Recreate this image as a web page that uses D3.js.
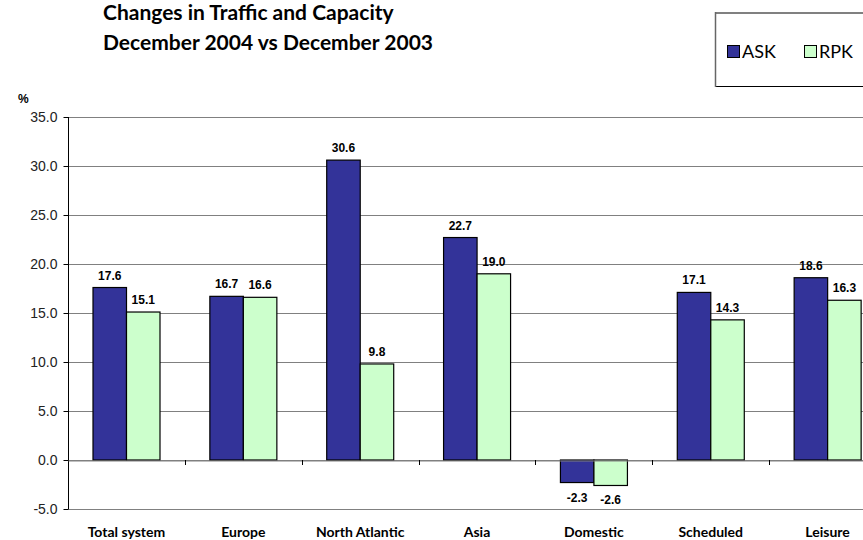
<!DOCTYPE html>
<html>
<head>
<meta charset="utf-8">
<script src="https://cdn.jsdelivr.net/npm/d3@7"></script>
<style>
  body { margin: 0; background: #fff; }
  svg { display: block; }
</style>
</head>
<body>
<div id="chart"></div>
<script>
var categories = ["Total system", "Europe", "North Atlantic", "Asia", "Domestic", "Scheduled", "Leisure"];
var seriesNames = ["ASK", "RPK"];
var askValues = [17.6, 16.7, 30.6, 22.7, -2.3, 17.1, 18.6];
var rpkValues = [15.1, 16.6, 9.8, 19.0, -2.6, 14.3, 16.3];
var yTicks = [-5, 0, 5, 10, 15, 20, 25, 30, 35];
var colors = ["#333399", "#CCFFCC"];

// plain hyphen for negatives, like the original
d3.formatDefaultLocale({ decimal: ".", thousands: ",", grouping: [3], currency: ["", ""], minus: "-" });
var fmt = d3.format(".1f");

var width = 863, height = 540;
var svg = d3.select("#chart").append("svg")
    .attr("width", width)
    .attr("height", height);

var x = d3.scaleBand().domain(categories).range([68, 886]);
var y = d3.scaleLinear().domain([-5, 35]).range([509, 117]);
var xInner = d3.scaleBand().domain(seriesNames).range([25, 92]);

var data = categories.map(function(c, i){
    return { category: c, values: [askValues[i], rpkValues[i]] };
});

// gridlines
svg.append("g")
    .selectAll("line")
    .data(yTicks)
    .enter().append("line")
    .attr("x1", 68).attr("x2", 886)
    .attr("y1", function(d){ return Math.round(y(d)) + 0.5; })
    .attr("y2", function(d){ return Math.round(y(d)) + 0.5; })
    .style("stroke", "#808080")
    .style("stroke-width", 1);

// y axis
var yAxis = d3.axisLeft(y).tickValues(yTicks).tickSize(5).tickFormat(fmt);
svg.append("g")
    .attr("class", "axis axis--y")
    .attr("transform", "translate(68.5,0)")
    .call(yAxis)
    .call(function(g){
        g.select(".domain").attr("d", "M0," + y(35) + "V" + y(-5)).style("stroke", "#000");
        g.selectAll(".tick line").style("stroke", "#000");
        g.selectAll("text")
            .attr("x", -11)
            .style("font-family", "Arial, 'Liberation Sans', sans-serif")
            .style("font-size", "14px")
            .style("fill", "#222");
    });

// bars
var groups = svg.append("g").selectAll("g")
    .data(data)
    .enter().append("g")
    .attr("transform", function(d){ return "translate(" + x(d.category) + ",0)"; });

groups.selectAll("rect")
    .data(function(d){ return d.values.map(function(v, i){ return { name: seriesNames[i], value: v, i: i }; }); })
    .enter().append("rect")
    .attr("x", function(d){ return xInner(d.name); })
    .attr("width", xInner.bandwidth())
    .attr("y", function(d){ return y(Math.max(0, d.value)); })
    .attr("height", function(d){ return Math.abs(y(d.value) - y(0)); })
    .style("fill", function(d){ return colors[d.i]; })
    .style("stroke", "#000")
    .style("stroke-width", 1.2);

groups.selectAll(".count-value")
    .data(function(d){ return d.values.map(function(v, i){ return { name: seriesNames[i], value: v }; }); })
    .enter().append("text")
    .attr("class", "count-value")
    .attr("x", function(d){ return xInner(d.name) + xInner.bandwidth() / 2; })
    .attr("y", function(d){ return d.value >= 0 ? y(d.value) - 8 : y(d.value) + 19; })
    .attr("text-anchor", "middle")
    .style("font-family", "Arial, 'Liberation Sans', sans-serif")
    .style("font-weight", "bold")
    .style("font-size", "12px")
    .style("fill", "#000")
    .text(function(d){ return fmt(d.value); });

// x axis at zero
var xAxis = d3.axisBottom(x).tickSize(0).tickFormat("");
svg.append("g")
    .attr("class", "axis axis--x")
    .attr("transform", "translate(0," + (Math.round(y(0)) + 0.5) + ")")
    .call(xAxis)
    .call(function(g){
        g.select(".domain").style("stroke", "#808080");
    });
svg.append("g").selectAll("line")
    .data(categories.slice(1))
    .enter().append("line")
    .attr("x1", function(d){ return Math.round(x(d)) + 0.5; })
    .attr("x2", function(d){ return Math.round(x(d)) + 0.5; })
    .attr("y1", y(0))
    .attr("y2", y(0) + 5)
    .style("stroke", "#000");

// category labels
svg.append("g").selectAll("text")
    .data(categories)
    .enter().append("text")
    .attr("x", function(d){ return x(d) + x.bandwidth() / 2; })
    .attr("y", 537)
    .attr("text-anchor", "middle")
    .style("font-family", "Lato, 'Open Sans', sans-serif")
    .style("font-weight", "bold")
    .style("font-size", "14px")
    .style("fill", "#000")
    .text(function(d){ return d; });

// % label
svg.append("text")
    .attr("x", 18).attr("y", 103)
    .style("font-family", "Arial, 'Liberation Sans', sans-serif")
    .style("font-weight", "bold")
    .style("font-size", "12px")
    .text("%");

// title
var title = svg.append("text")
    .style("font-family", "Lato, 'Open Sans', sans-serif")
    .style("font-weight", "bold")
    .style("font-size", "21px")
    .style("fill", "#000");
title.append("tspan").attr("x", 103).attr("y", 20).text("Changes in Traffic and Capacity");
title.append("tspan").attr("x", 103).attr("y", 50).text("December 2004 vs December 2003");

// legend
var legend = svg.append("g");
legend.append("rect")
    .attr("x", 715.5).attr("y", 12.5)
    .attr("width", 160).attr("height", 74)
    .style("fill", "#fff")
    .style("stroke", "#000");
legend.append("line")
    .attr("x1", 715).attr("x2", 863).attr("y1", 13).attr("y2", 13)
    .style("stroke", "#808080").style("stroke-width", 2);
legend.append("line")
    .attr("x1", 715.5).attr("x2", 715.5).attr("y1", 12).attr("y2", 87)
    .style("stroke", "#666").style("stroke-width", 1.5);
var legendX = [727, 804];
seriesNames.forEach(function(name, i){
    legend.append("rect")
        .attr("x", legendX[i] + 0.5).attr("y", 45.5)
        .attr("width", 12).attr("height", 12)
        .style("fill", colors[i])
        .style("stroke", "#000");
    legend.append("text")
        .attr("x", legendX[i] + 15).attr("y", 58)
        .style("font-family", "Lato, 'Open Sans', sans-serif")
        .style("font-size", "18px")
        .style("fill", "#000")
        .text(name);
});
</script>
</body>
</html>
